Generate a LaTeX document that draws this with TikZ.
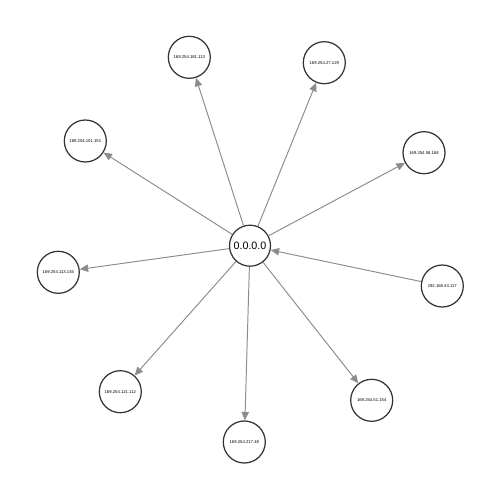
\documentclass[tikz,border=0pt]{standalone}
\usepackage{fontspec}
\setmainfont{Liberation Sans}
\usepackage{tikz}
\usetikzlibrary{arrows.meta}
\usepackage{xcolor}
\definecolor{edgegray}{HTML}{8C8C8C}
\definecolor{ringgray}{HTML}{333333}

\begin{document}
\begin{tikzpicture}[x=0.2mm,y=-0.2mm,
    host/.style={circle,draw=ringgray,line width=0.7pt,fill=white,
        minimum size=42*0.2mm,inner sep=0pt,font=\fontsize{2.4}{3}\selectfont},
    hub/.style={host,minimum size=41*0.2mm,font=\fontsize{6.1}{7}\selectfont},
    link/.style={draw=edgegray,line width=0.55pt,
        -{Triangle[length=4.8pt,width=4.2pt]}}]
                \useasboundingbox (0,0) rectangle (500,500);
                \node[hub] (zero) at (250,245.7) {0.0.0.0};
                \node[host] (n181) at (189.3,57.3) {169.254.181.113};
                \node[host] (n27) at (324.3,62.7) {169.254.27.129};
                \node[host] (n101) at (85.3,141) {169.254.101.151};
                \node[host] (n58) at (424,152.7) {169.254.58.168};
                \node[host] (n113) at (58.3,272.3) {169.254.113.145};
                \node[host] (n43) at (442.3,286) {192.168.43.117};
                \node[host] (n121) at (120.3,391.7) {169.254.121.112};
                \node[host] (n217) at (244.3,442) {169.254.217.48};
                \node[host] (n51) at (371.7,400.3) {169.254.51.154};
                % outgoing
                \foreach \t in {n181,n27,n101,n58,n113,n121,n217,n51}
                    \draw[link] (zero) -- (\t);
                % incoming
                \draw[link] (n43) -- (zero);
            \end{tikzpicture}
\end{document}
